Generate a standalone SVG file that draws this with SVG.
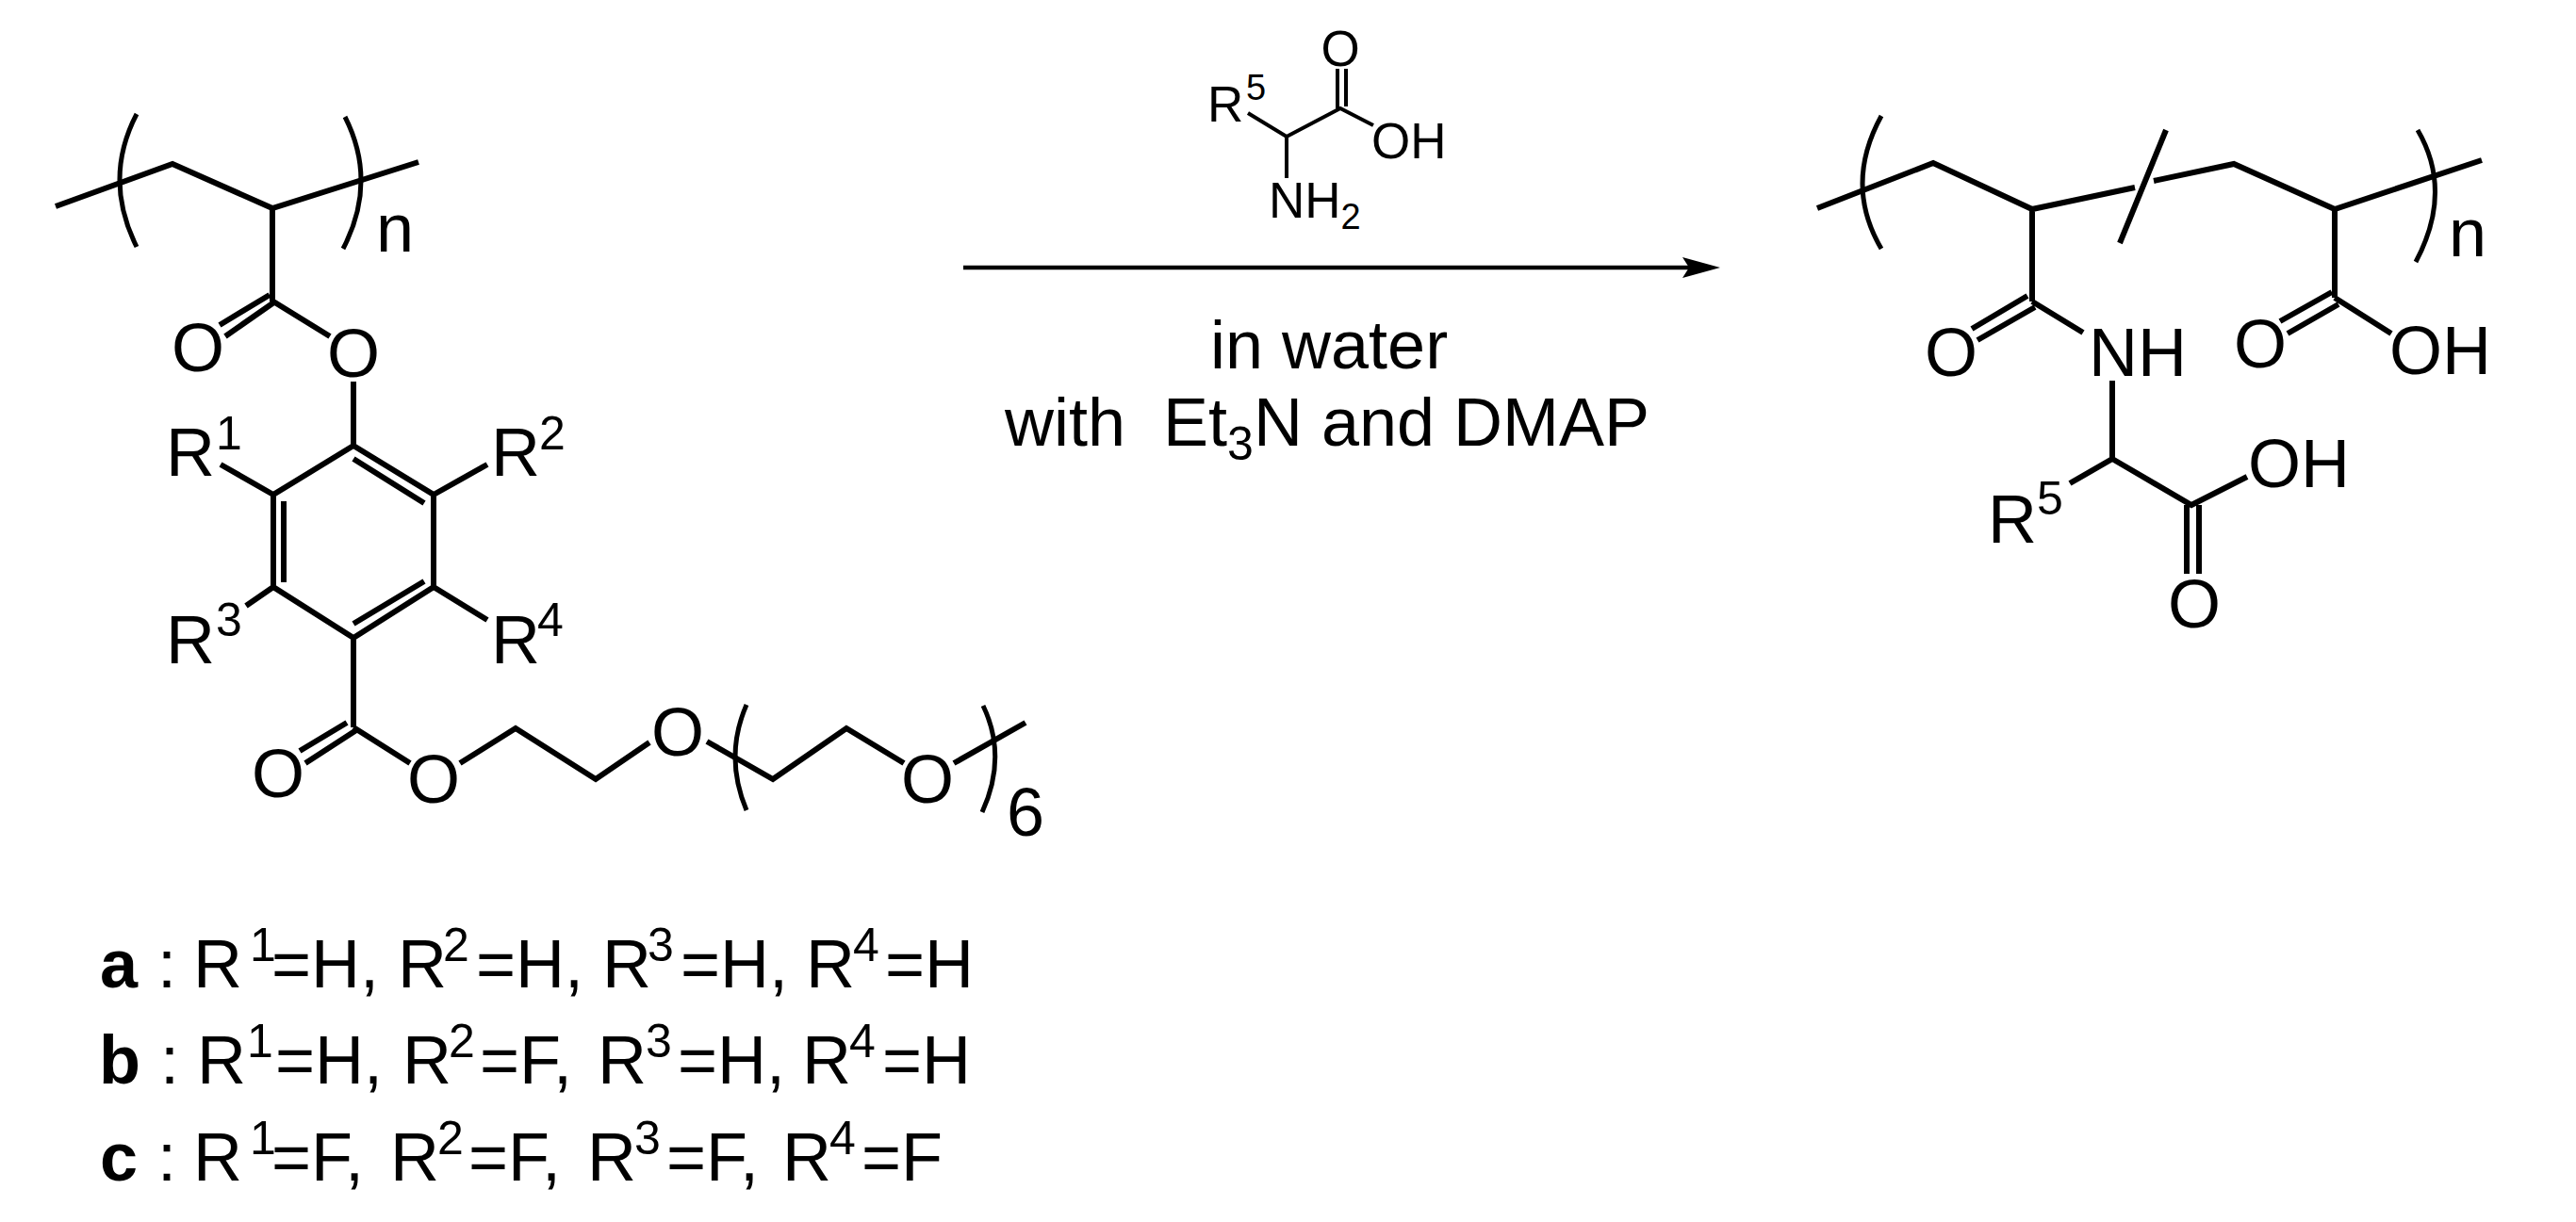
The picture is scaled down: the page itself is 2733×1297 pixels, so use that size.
<svg xmlns="http://www.w3.org/2000/svg" width="2733" height="1297" viewBox="0 0 2733 1297">
<style>
text{font-family:"Liberation Sans",Arial,sans-serif;font-size:72px;fill:#000}
.m{text-anchor:middle}
.s{font-size:50px}
.b{font-weight:bold}
.sm{font-size:53px}
.ss{font-size:38px}
.t{fill:none;stroke:#000;stroke-width:6;stroke-linejoin:miter}
.f{fill:none;stroke:#000;stroke-width:5}
.d{fill:none;stroke:#000;stroke-width:4}
</style>
<defs>
<marker id="head" markerUnits="userSpaceOnUse" markerWidth="42" markerHeight="24" refX="7" refY="11" orient="auto"><path d="M0 0L40 11L0 22L7 11Z" fill="#000"/></marker>
</defs>
<rect width="2733" height="1297" fill="#fff"/>
<g id="monomer">
<path class="t" d="M59 219L183 174L289 221L444 172M289 221V320M292 320L239 357M286 313L233 345M290 320L350 357M375 405V473"/>
<path class="f" d="M145 121Q109 190 145 262M366 124Q401 193 364 264"/>
<text x="399" y="267">n</text>
<text class="m" x="210" y="394">O</text>
<text class="m" x="375" y="400">O</text>
<path class="t" d="M375 473L290 525V623L375 677L460 623V525L375 473M375 487L450 534M301 532V618M375 662L450 617M234 493L290 525M517 493L460 525M261 643L290 623M517 658L460 623"/>
<text x="176" y="505">R</text><text class="s" x="229" y="477">1</text>
<text x="521" y="505">R</text><text class="s" x="572" y="477">2</text>
<text x="176" y="704">R</text><text class="s" x="229" y="675">3</text>
<text x="521" y="704">R</text><text class="s" x="570" y="675">4</text>
<path class="t" d="M375 677V772M378 775L324 810M368 767L318 797M375 772L435 810M488 810L547 773L632 827L689 788M750 787L820 827L898 773L959 810M1012 810L1088 767"/>
<path class="f" d="M792 748Q768 803 792 860M1043 749Q1069 803 1042 862"/>
<text class="m" x="295" y="846">O</text>
<text class="m" x="460" y="852">O</text>
<text class="m" x="719" y="802">O</text>
<text class="m" x="984" y="852">O</text>
<text x="1068" y="887">6</text>
</g>
<g id="amino-acid">
<path class="d" d="M1419 73V115M1428 73V113M1324 120L1365 145L1422 115L1457 133M1365 145V189"/>
<text class="m sm" x="1422" y="70">O</text>
<text class="sm" x="1281" y="129">R</text><text class="ss" x="1322" y="106">5</text>
<text class="sm" x="1455" y="168">OH</text>
<text class="sm" x="1346" y="231">NH<tspan class="ss" dy="12">2</tspan></text>
</g>
<g id="conditions">
<text x="1284" y="391">in water</text>
<text x="1066" y="473" xml:space="preserve">with  Et<tspan class="s" dy="15">3</tspan><tspan dy="-15">N and DMAP</tspan></text>
</g>
<g id="product">
<path class="t" d="M1928 221L2051 173L2156 222L2265 199M2285 192L2370 174L2477 222L2633 170M2298 138L2249 258M2156 222V320M2159 326L2098 361M2151 314L2092 349M2156 320L2210 353M2241 404V487L2196 513M2241 487L2325 536L2384 506M2320 536V609M2333 536V609M2477 222V316M2481 323L2427 354M2474 310L2419 341M2477 316L2537 354"/>
<path class="f" d="M1996 123Q1956 196 1996 264M2565 138Q2603 203 2563 278"/>
<text x="2598" y="272">n</text>
<text class="m" x="2070" y="399">O</text>
<text x="2216" y="399">NH</text>
<text class="m" x="2398" y="390">O</text>
<text x="2535" y="397">OH</text>
<text x="2385" y="517">OH</text>
<text class="m" x="2328" y="666">O</text>
<text x="2109" y="576">R</text><text class="s" x="2161" y="546">5</text>
</g>
<g id="legend">
<text class="b" x="106" y="1048">a</text><text x="167" y="1048">:</text>
<text x="205" y="1048">R<tspan class="s" x="265" dy="-28">1</tspan><tspan x="288" dy="28">=H,</tspan></text>
<text x="422" y="1048">R<tspan class="s" x="470" dy="-28">2</tspan><tspan x="505" dy="28">=H,</tspan></text>
<text x="639" y="1048">R<tspan class="s" x="687" dy="-28">3</tspan><tspan x="722" dy="28">=H,</tspan></text>
<text x="855" y="1048">R<tspan class="s" x="905" dy="-28">4</tspan><tspan x="939" dy="28">=H</tspan></text>
<text class="b" x="105" y="1150">b</text><text x="170" y="1150">:</text>
<text x="209" y="1150">R<tspan class="s" x="262" dy="-28">1</tspan><tspan x="292" dy="28">=H,</tspan></text>
<text x="427" y="1150">R<tspan class="s" x="476" dy="-28">2</tspan><tspan x="509" dy="28">=F,</tspan></text>
<text x="634" y="1150">R<tspan class="s" x="685" dy="-28">3</tspan><tspan x="719" dy="28">=H,</tspan></text>
<text x="851" y="1150">R<tspan class="s" x="901" dy="-28">4</tspan><tspan x="936" dy="28">=H</tspan></text>
<text class="b" x="106" y="1253">c</text><text x="167" y="1253">:</text>
<text x="205" y="1253">R<tspan class="s" x="265" dy="-28">1</tspan><tspan x="288" dy="28">=F,</tspan></text>
<text x="414" y="1253">R<tspan class="s" x="464" dy="-28">2</tspan><tspan x="497" dy="28">=F,</tspan></text>
<text x="623" y="1253">R<tspan class="s" x="673" dy="-28">3</tspan><tspan x="707" dy="28">=F,</tspan></text>
<text x="830" y="1253">R<tspan class="s" x="880" dy="-28">4</tspan><tspan x="914" dy="28">=F</tspan></text>
</g>
<g id="connectors">
<line x1="1022" y1="284" x2="1792" y2="284" stroke="#000" stroke-width="4.5" marker-end="url(#head)"/>
</g>
</svg>
